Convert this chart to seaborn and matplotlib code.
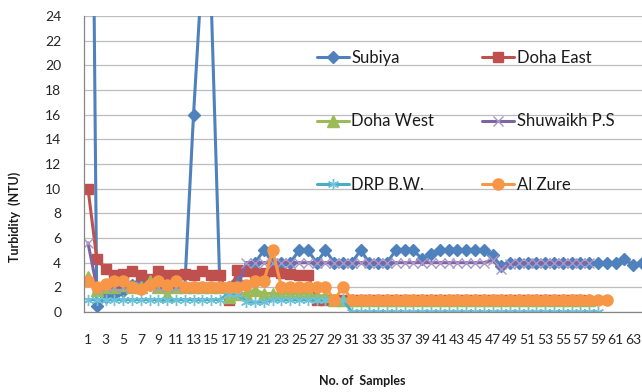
import numpy as np
import pandas as pd
import matplotlib
matplotlib.use("Agg")
import matplotlib.pyplot as plt
import seaborn as sns

# ---------------- data ----------------
subiya = [80, 0.5, 1.2, 1.4, 1.7, 2.2, 2.5, 2.2, 2.0, 2.0, 2.0, 2.0, 16, 28, 25.5, 2.0,
          2.0, 2.5, 3.5, 4.0, 5.0, 4.0, 4.0, 4.0, 5.0, 5.0, 4.0, 5.0, 4.0, 4.0, 4.0, 5.0,
          4.0, 4.0, 4.0, 5.0, 5.0, 5.0, 4.3, 4.7, 5.0, 5.0, 5.0, 5.0, 5.0, 5.0, 4.6, 3.7,
          4.0, 4.0, 4.0, 4.0, 4.0, 4.0, 4.0, 4.0, 4.0, 4.0, 4.0, 4.0, 4.0, 4.3, 3.8, 4.0]
doha_east = [10, 4.3, 3.5, 3.0, 3.1, 3.3, 3.0, 2.7, 3.3, 3.0, 3.0, 3.1, 3.0, 3.3, 3.0, 3.0,
             1.0, 3.4, 3.3, 3.2, 3.2, 3.3, 3.2, 3.1, 3.0, 3.0, 1.0, 1.0] + [1.0] * 29
doha_west = [2.8, 1.8, 2.0, 2.0, 2.2, 2.0, 2.0, 2.5, 2.0, 1.4, 2.0, 2.0, 2.0, 2.0, 2.0, 2.0,
             1.2, 1.5, 1.5, 1.8, 1.5, 1.5, 1.5, 1.5, 1.5, 1.5, 1.3, 1.3] + [1.0] * 30
shuwaikh = [5.6] + [2.0] * 17 + [4.0] * 28 + [4.2, 3.5, 3.9] + [4.0] * 9
drp_bw = [1.0] * 16 + [1.5, 1.5, 0.8, 0.8, 0.8] + [1.0] * 9 + [0.0] * 29
al_zure = [2.5, 2.0, 2.3, 2.5, 2.5, 2.0, 1.9, 2.2, 2.5, 2.2, 2.5, 2.0, 2.0, 2.0, 2.0, 2.0,
           2.0, 2.0, 2.2, 2.5, 2.5, 5.0, 2.0, 2.0, 2.0, 2.0, 2.0, 2.0, 1.0, 2.0] + [1.0] * 30

series = [
    ("Subiya", subiya),
    ("Doha East", doha_east),
    ("Doha West", doha_west),
    ("Shuwaikh P.S", shuwaikh),
    ("DRP B.W.", drp_bw),
    ("Al Zure", al_zure),
]
x_tick_labels = [str(i) for i in range(1, 64, 2)]
y_ticks = list(range(0, 25, 2))

# ---------------- style ----------------
sns.set_style("white")
plt.rcParams["font.family"] = ["Lato", "DejaVu Sans"]

styles = {
    "Subiya":       dict(color="#4F81BD", marker="D", ms=6.5, mec="#4F81BD", mfc="#4F81BD", mew=1),
    "Doha East":    dict(color="#C0504D", marker="s", ms=7.5, mec="#C0504D", mfc="#C0504D", mew=1),
    "Doha West":    dict(color="#9BBB59", marker="^", ms=8, mec="#9BBB59", mfc="#9BBB59", mew=1),
    "Shuwaikh P.S": dict(color="#8064A2", marker="x", ms=7, mec="#A896C8", mfc="none", mew=1.0),
    "DRP B.W.":     dict(color="#4BACC6", marker=(6, 2, 0), ms=8, mec="#6FC3D8", mfc="none", mew=1.0),
    "Al Zure":      dict(color="#F79646", marker="o", ms=8, mec="#F79646", mfc="#F79646", mew=1),
}

fig = plt.figure(figsize=(6.42, 3.92), dpi=100)
ax = fig.add_axes([83.6 / 642, 80 / 392, (642 - 83.6) / 642, 296 / 392])

handles = {}
for name, vals in series:
    st = styles[name]
    df = pd.DataFrame({"sample": np.arange(1, len(vals) + 1), "value": vals})
    sns.lineplot(data=df, x="sample", y="value", ax=ax, color=st["color"],
                 linewidth=2.2, marker=st["marker"], markersize=st["ms"],
                 markeredgecolor=st["mec"], markerfacecolor=st["mfc"],
                 markeredgewidth=st["mew"], label=name, clip_on=True)
    handles[name] = ax.lines[-1]

ax.set_xlim(0.5, 64.0)
ax.set_ylim(0, 24)

# y axis
ax.set_yticks(y_ticks)
ax.set_yticklabels([str(v) for v in y_ticks], fontsize=10, color="#262626")
ax.yaxis.grid(True, color="#bdbdbd", linewidth=0.9)
ax.set_axisbelow(True)
ax.tick_params(axis="y", direction="out", length=5, width=0.8, color="#868686", pad=11)

# x axis: labels at odd categories, tick marks at category boundaries
ax.set_xticks(list(range(1, 64, 2)))
ax.set_xticklabels(x_tick_labels, fontsize=10, color="#262626")
ax.set_xticks(np.arange(0.5, 64.0, 1.0), minor=True)
ax.tick_params(axis="x", which="major", length=0, pad=16)
ax.tick_params(axis="x", which="minor", direction="out", length=5, width=0.8, color="#868686")

for s in ["top", "right"]:
    ax.spines[s].set_visible(False)
for s in ["left", "bottom"]:
    ax.spines[s].set_color("#868686")
    ax.spines[s].set_linewidth(0.9)

ax.set_xlabel("")
ax.set_ylabel("")
fig.text(15 / 642, 1 - 217 / 392, "Turbidity  (NTU)", rotation=90, ha="center", va="center",
         fontsize=9, fontweight="bold", color="#1a1a1a")
fig.text(362 / 642, 1 - 381 / 392, "No. of  Samples", ha="center", va="center",
         fontsize=9, fontweight="bold", color="#1a1a1a")

order = ["Subiya", "Doha West", "DRP B.W.", "Doha East", "Shuwaikh P.S", "Al Zure"]
leg = ax.legend([handles[n] for n in order], order, ncol=2, loc="upper left",
                bbox_to_anchor=(317 / 642, 1 - 50 / 392), bbox_transform=fig.transFigure,
                frameon=False, fontsize=12, handlelength=1.9, handletextpad=0.15,
                labelspacing=2.85, columnspacing=2.9, borderpad=0, borderaxespad=0,
                numpoints=1)
for t in leg.get_texts():
    t.set_color("#1a1a1a")

fig.savefig("out.png", dpi=100)
